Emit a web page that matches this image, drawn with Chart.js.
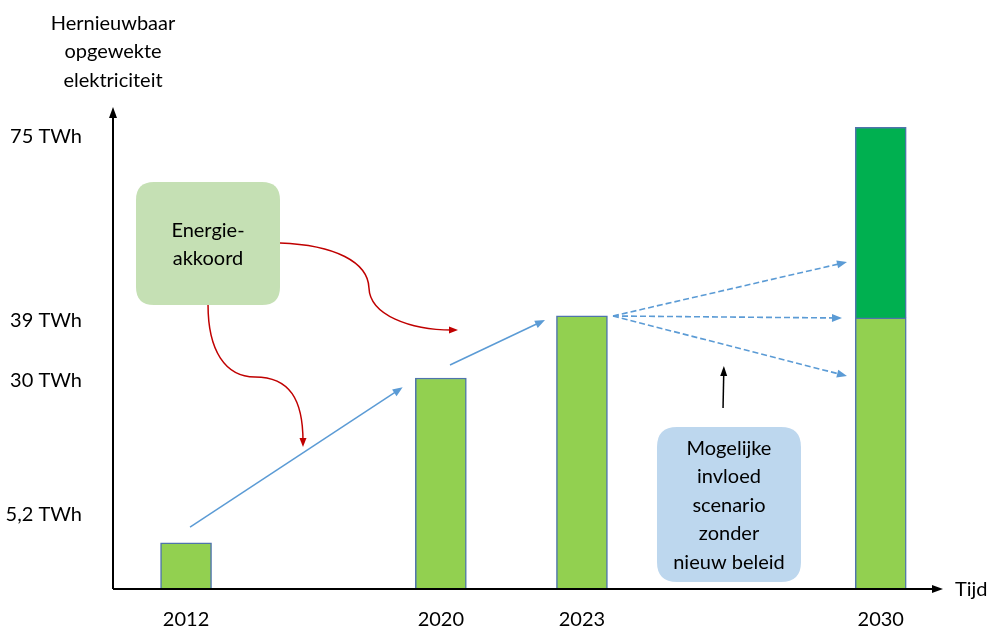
<!DOCTYPE html>
<html><head><meta charset="utf-8">
<script src="https://cdn.jsdelivr.net/npm/chart.js@4.4.1/dist/chart.umd.min.js"></script>
<style>html,body{margin:0;padding:0;background:#fff}#wrap{width:988px;height:630px;position:relative}</style>
</head><body><div id="wrap"><canvas id="c" width="988" height="630"></canvas></div>
<script>
// ---- data ----
const years = ['2012', '2020', '2023', '2030'];
const yearSlot = [8.8, 39.5, 56.5, 92.5];          // schematic (non-linear) time axis position
const baseTWh = [6.6, 30.2, 39.1, 38.8];           // light green bars (schematic heights)
const extraTWh = [null, null, null, 27.3];         // dark green addition in 2030
const yTickValues = [10.6, 29.9, 38.5, 64.8];
const yTickLabels = ['5,2 TWh', '30 TWh', '39 TWh', '75 TWh'];
const axisTitleLines = ['Hernieuwbaar', 'opgewekte', 'elektriciteit'];
const xAxisTitle = 'Tijd';
const box1Lines = ['Energie-', 'akkoord'];
const box2Lines = ['Mogelijke', 'invloed', 'scenario', 'zonder', 'nieuw beleid'];

// ---- annotation geometry (in data units of the chart scales) ----
const box1 = {x0: 2.77, x1: 20.12, y0: 40.65, y1: 58.26};
const box2 = {x0: 65.54, x1: 82.89, y0: 1.0, y1: 23.19};
const trendArrows = [[[9.28, 8.87], [34.9, 28.87]], [[40.6, 32.06], [52.05, 38.5]]];
const scenarioFrom = [60.24, 39.08];
const scenarioTo = [[88.43, 46.8], [87.83, 38.79], [88.43, 30.49]];
const pointerArrow = [[73.5, 25.9], [73.6, 31.92]];
const redCurves = [
  [[20.12, 49.53], [26.75, 49.24], [30.72, 46.81], [30.84, 43.09], [30.96, 39.22], [35.78, 37.07], [41.57, 37.07]],
  [[11.45, 40.65], [11.45, 34.21], [13.49, 30.35], [17.11, 30.35], [21.33, 30.35], [22.89, 27.05], [22.89, 20.33]]
];

const FONT = 'Lato';
const LIGHT = '#92D050', DARK = '#00B050', EDGE = '#4F74AC', BLUE = '#5B9BD5', RED = '#C00000';

function head(ctx, from, tip, len, w, color) {
  const a = Math.atan2(tip[1] - from[1], tip[0] - from[0]);
  ctx.save(); ctx.translate(tip[0], tip[1]); ctx.rotate(a);
  ctx.beginPath(); ctx.moveTo(0, 0); ctx.lineTo(-len, w / 2); ctx.lineTo(-len, -w / 2); ctx.closePath();
  ctx.fillStyle = color; ctx.fill(); ctx.restore();
}
function arrowLine(ctx, a, b, color, lw, dash, len, w) {
  const ang = Math.atan2(b[1] - a[1], b[0] - a[0]);
  const e = [b[0] - Math.cos(ang) * len * 0.7, b[1] - Math.sin(ang) * len * 0.7];
  ctx.save(); ctx.strokeStyle = color; ctx.lineWidth = lw; ctx.setLineDash(dash || []);
  ctx.beginPath(); ctx.moveTo(a[0], a[1]); ctx.lineTo(e[0], e[1]); ctx.stroke(); ctx.restore();
  head(ctx, a, b, len, w, color);
}
function roundBox(ctx, x0, y0, x1, y1, r, fill) {
  ctx.save(); ctx.beginPath();
  ctx.moveTo(x0 + r, y0); ctx.lineTo(x1 - r, y0); ctx.quadraticCurveTo(x1, y0, x1, y0 + r);
  ctx.lineTo(x1, y1 - r); ctx.quadraticCurveTo(x1, y1, x1 - r, y1);
  ctx.lineTo(x0 + r, y1); ctx.quadraticCurveTo(x0, y1, x0, y1 - r);
  ctx.lineTo(x0, y0 + r); ctx.quadraticCurveTo(x0, y0, x0 + r, y0);
  ctx.closePath(); ctx.fillStyle = fill; ctx.fill(); ctx.restore();
}
function textLines(ctx, lines, cx, cy, spacing) {
  ctx.save(); ctx.fillStyle = '#000'; ctx.font = '20px ' + FONT;
  ctx.textAlign = 'center'; ctx.textBaseline = 'middle';
  const start = cy - spacing * (lines.length - 1) / 2;
  lines.forEach((l, i) => ctx.fillText(l, cx, start + i * spacing));
  ctx.restore();
}

const annotations = {
  id: 'annotations',
  afterDatasetsDraw(chart) {
    const ctx = chart.ctx, xs = chart.scales.x, ys = chart.scales.y, ca = chart.chartArea;
    const P = (p) => [xs.getPixelForValue(p[0]), ys.getPixelForValue(p[1])];
    // axes with arrowheads
    ctx.save(); ctx.strokeStyle = '#000'; ctx.lineWidth = 2;
    ctx.beginPath(); ctx.moveTo(ca.left, ca.bottom); ctx.lineTo(ca.left, ca.top + 14); ctx.stroke();
    ctx.beginPath(); ctx.moveTo(ca.left, ca.bottom); ctx.lineTo(ca.right - 8, ca.bottom); ctx.stroke();
    ctx.restore();
    head(ctx, [ca.left, ca.bottom], [ca.left, ca.top + 7], 11, 8, '#000');
    head(ctx, [ca.left, ca.bottom], [ca.right, ca.bottom], 11, 8, '#000');
    // axis titles
    textLines(ctx, axisTitleLines, ca.left, ca.top - 48, 28.5);
    ctx.save(); ctx.fillStyle = '#000'; ctx.font = '20px ' + FONT; ctx.textAlign = 'left'; ctx.textBaseline = 'middle';
    ctx.fillText(xAxisTitle, ca.right + 12, ca.bottom + 1);
    ctx.restore();
    // boxes
    const b1a = P([box1.x0, box1.y1]), b1b = P([box1.x1, box1.y0]);
    roundBox(ctx, b1a[0], b1a[1], b1b[0], b1b[1], 18, '#C5E0B4');
    textLines(ctx, box1Lines, (b1a[0] + b1b[0]) / 2, (b1a[1] + b1b[1]) / 2 + 1, 28);
    const b2a = P([box2.x0, box2.y1]), b2b = P([box2.x1, box2.y0]);
    roundBox(ctx, b2a[0], b2a[1], b2b[0], b2b[1], 20, '#BDD7EE');
    textLines(ctx, box2Lines, (b2a[0] + b2b[0]) / 2, (b2a[1] + b2b[1]) / 2 + 1, 28.5);
    // trend arrows
    trendArrows.forEach(([a, b]) => arrowLine(ctx, P(a), P(b), BLUE, 1.5, null, 10, 8));
    scenarioTo.forEach(t => arrowLine(ctx, P(scenarioFrom), P(t), BLUE, 1.6, [6, 3], 10, 8));
    arrowLine(ctx, P(pointerArrow[0]), P(pointerArrow[1]), '#000', 1.5, null, 10, 7);
    // red curved connectors
    redCurves.forEach(c => {
      const p = c.map(P);
      ctx.save(); ctx.strokeStyle = RED; ctx.lineWidth = 1.5;
      ctx.beginPath(); ctx.moveTo(p[0][0], p[0][1]);
      ctx.bezierCurveTo(p[1][0], p[1][1], p[2][0], p[2][1], p[3][0], p[3][1]);
      ctx.bezierCurveTo(p[4][0], p[4][1], p[5][0], p[5][1], p[6][0] - (p[6][0] - p[5][0]) * 0.12, p[6][1] - (p[6][1] - p[5][1]) * 0.12);
      ctx.stroke(); ctx.restore();
      head(ctx, p[5], p[6], 9, 7, RED);
    });
  }
};

new Chart(document.getElementById('c'), {
  type: 'bar',
  data: {
    datasets: [
      {
        label: 'basis',
        data: years.map((y, i) => ({x: yearSlot[i], y: baseTWh[i]})),
        backgroundColor: LIGHT, borderColor: EDGE, borderWidth: 1.5, barThickness: 51
      },
      {
        label: 'extra',
        data: years.map((y, i) => ({x: yearSlot[i], y: extraTWh[i]})).filter(d => d.y !== null),
        backgroundColor: DARK, borderColor: EDGE, borderWidth: 1.5, barThickness: 51
      }
    ]
  },
  options: {
    responsive: false, animation: false, devicePixelRatio: 1,
    layout: {padding: {top: 100, right: 45, left: 0, bottom: 0}},
    plugins: {legend: {display: false}, tooltip: {enabled: false}},
    scales: {
      x: {
        type: 'linear', min: 0, max: 100, stacked: true, offset: false,
        grid: {display: false, drawTicks: false}, border: {display: false},
        afterBuildTicks: s => { s.ticks = yearSlot.map(v => ({value: v})); },
        afterFit: s => { s.height = 41; s.paddingLeft = 0; s.paddingRight = 0; s.paddingTop = 0; s.paddingBottom = 0; },
        ticks: {autoSkip: false, maxRotation: 0, padding: 19, color: '#000', font: {family: FONT, size: 20},
          callback: (v, i) => years[i]}
      },
      y: {
        min: 0, max: 70, stacked: true,
        grid: {display: false, drawTicks: false}, border: {display: false},
        afterBuildTicks: s => { s.ticks = yTickValues.map(v => ({value: v})); },
        afterFit: s => { s.width = 113; s.paddingLeft = 0; s.paddingRight = 0; s.paddingTop = 0; s.paddingBottom = 0; },
        ticks: {autoSkip: false, padding: 31, color: '#000', font: {family: FONT, size: 20},
          callback: (v, i) => yTickLabels[i]}
      }
    }
  },
  plugins: [annotations]
});
</script></body></html>
